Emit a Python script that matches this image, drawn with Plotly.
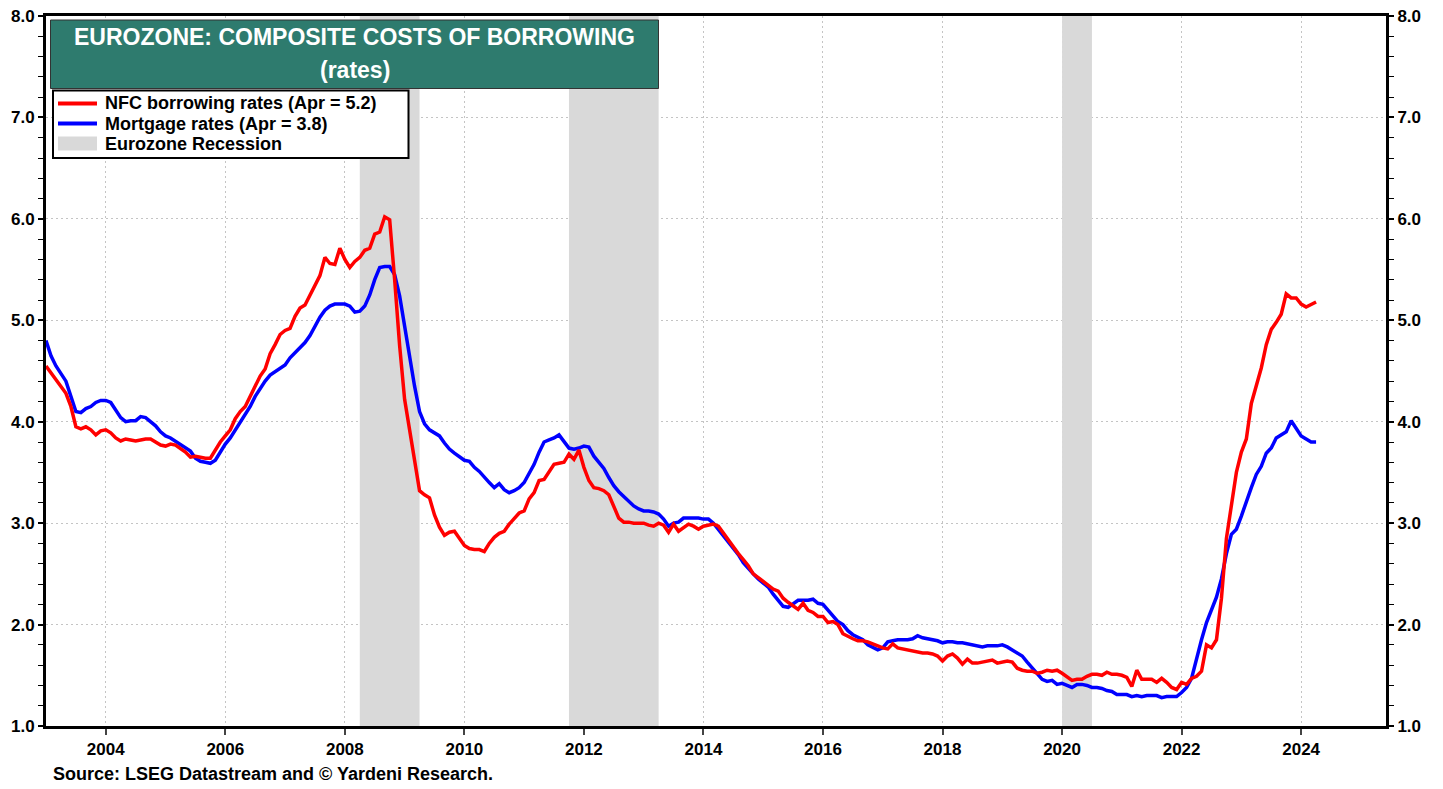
import plotly.graph_objects as go

# ---------------- data (monthly, Jan 2003 .. Apr 2024) ----------------
start_year = 2003
nfc_rates = [
    # 2003
    4.55, 4.48, 4.42, 4.35, 4.28, 4.15, 3.95, 3.93, 3.95, 3.92, 3.87, 3.91,
    # 2004
    3.92, 3.89, 3.84, 3.81, 3.83, 3.82, 3.81, 3.82, 3.83, 3.83, 3.80, 3.77,
    # 2005
    3.76, 3.78, 3.77, 3.74, 3.70, 3.65, 3.66, 3.65, 3.64, 3.64, 3.72, 3.80,
    # 2006
    3.86, 3.92, 4.03, 4.10, 4.15, 4.25, 4.36, 4.45, 4.52, 4.67, 4.76, 4.86,
    # 2007
    4.90, 4.92, 5.04, 5.12, 5.15, 5.25, 5.34, 5.44, 5.62, 5.56, 5.55, 5.71,
    # 2008
    5.60, 5.52, 5.58, 5.62, 5.69, 5.71, 5.85, 5.87, 6.02, 5.99, 5.40, 4.75,
    # 2009
    4.22, 3.92, 3.65, 3.32, 3.28, 3.25, 3.08, 2.96, 2.88, 2.91, 2.92, 2.85,
    # 2010
    2.78, 2.75, 2.74, 2.74, 2.72, 2.80, 2.86, 2.90, 2.92, 2.99, 3.05, 3.10,
    # 2011
    3.12, 3.24, 3.30, 3.42, 3.43, 3.50, 3.58, 3.59, 3.60, 3.68, 3.63, 3.72,
    # 2012
    3.55, 3.42, 3.35, 3.34, 3.32, 3.28, 3.17, 3.05, 3.01, 3.01, 3.00, 3.00,
    # 2013
    3.00, 2.98, 2.97, 3.00, 2.98, 2.91, 2.99, 2.92, 2.95, 2.99, 2.97, 2.94,
    # 2014
    2.97, 2.98, 2.99, 2.97, 2.90, 2.84, 2.77, 2.70, 2.64, 2.58, 2.50, 2.46,
    # 2015
    2.42, 2.38, 2.35, 2.33, 2.26, 2.22, 2.18, 2.15, 2.21, 2.14, 2.12, 2.08,
    # 2016
    2.08, 2.02, 2.03, 2.00, 1.91, 1.88, 1.86, 1.84, 1.84, 1.83, 1.81, 1.79,
    # 2017
    1.77, 1.76, 1.81, 1.77, 1.76, 1.75, 1.74, 1.73, 1.72, 1.72, 1.71, 1.69,
    # 2018
    1.64, 1.69, 1.71, 1.67, 1.61, 1.66, 1.62, 1.62, 1.63, 1.64, 1.65, 1.62,
    # 2019
    1.63, 1.64, 1.63, 1.57, 1.55, 1.54, 1.54, 1.52, 1.53, 1.55, 1.54, 1.55,
    # 2020
    1.52, 1.48, 1.45, 1.46, 1.46, 1.49, 1.51, 1.51, 1.50, 1.53, 1.51, 1.51,
    # 2021
    1.50, 1.48, 1.39, 1.55, 1.46, 1.46, 1.46, 1.43, 1.47, 1.43, 1.38, 1.36,
    # 2022
    1.43, 1.41, 1.47, 1.49, 1.54, 1.80, 1.77, 1.85, 2.26, 2.85, 3.20, 3.50,
    # 2023
    3.70, 3.83, 4.18, 4.37, 4.53, 4.76, 4.91, 4.98, 5.06, 5.26, 5.22, 5.22,
    # 2024
    5.16, 5.13, 5.16, 5.18,
]

mortgage_rates = [
    # 2003
    4.80, 4.65, 4.55, 4.47, 4.40, 4.25, 4.10, 4.09, 4.13, 4.15, 4.19, 4.21,
    # 2004
    4.21, 4.19, 4.12, 4.04, 4.00, 4.01, 4.01, 4.05, 4.04, 4.00, 3.96, 3.90,
    # 2005
    3.86, 3.84, 3.81, 3.78, 3.75, 3.71, 3.64, 3.61, 3.60, 3.59, 3.62, 3.70,
    # 2006
    3.78, 3.84, 3.92, 3.99, 4.07, 4.15, 4.25, 4.33, 4.40, 4.46, 4.49, 4.52,
    # 2007
    4.56, 4.63, 4.68, 4.73, 4.78, 4.85, 4.94, 5.03, 5.10, 5.14, 5.16, 5.16,
    # 2008
    5.16, 5.14, 5.08, 5.09, 5.14, 5.25, 5.40, 5.52, 5.53, 5.53, 5.45, 5.24,
    # 2009
    4.93, 4.62, 4.35, 4.10, 3.98, 3.92, 3.89, 3.86, 3.79, 3.73, 3.69, 3.65,
    # 2010
    3.62, 3.61, 3.55, 3.51, 3.45, 3.40, 3.35, 3.39, 3.33, 3.30, 3.32, 3.35,
    # 2011
    3.40, 3.49, 3.58, 3.70, 3.80, 3.82, 3.84, 3.87, 3.80, 3.74, 3.73, 3.74,
    # 2012
    3.76, 3.75, 3.66, 3.60, 3.54, 3.45, 3.37, 3.31, 3.26, 3.21, 3.17, 3.14,
    # 2013
    3.12, 3.12, 3.11, 3.09, 3.04, 2.97, 3.00, 3.01, 3.05, 3.05, 3.05, 3.05,
    # 2014
    3.04, 3.04, 3.00, 2.94, 2.87, 2.82, 2.75, 2.69, 2.61, 2.55, 2.50, 2.45,
    # 2015
    2.41, 2.37, 2.30, 2.24, 2.18, 2.17, 2.20, 2.24, 2.24, 2.24, 2.25, 2.21,
    # 2016
    2.20, 2.14, 2.08, 2.03, 2.00, 1.94, 1.90, 1.87, 1.85, 1.80, 1.77, 1.75,
    # 2017
    1.77, 1.83, 1.84, 1.85, 1.85, 1.85, 1.86, 1.89, 1.87, 1.86, 1.85, 1.84,
    # 2018
    1.82, 1.83, 1.83, 1.82, 1.82, 1.81, 1.80, 1.79, 1.78, 1.79, 1.79, 1.79,
    # 2019
    1.80, 1.78, 1.75, 1.72, 1.69, 1.63, 1.57, 1.52, 1.46, 1.44, 1.45, 1.41,
    # 2020
    1.42, 1.40, 1.38, 1.41, 1.41, 1.40, 1.38, 1.38, 1.37, 1.35, 1.34, 1.31,
    # 2021
    1.31, 1.31, 1.29, 1.30, 1.29, 1.30, 1.30, 1.30, 1.28, 1.29, 1.29, 1.29,
    # 2022
    1.33, 1.38, 1.47, 1.67, 1.85, 2.02, 2.15, 2.27, 2.45, 2.70, 2.89, 2.94,
    # 2023
    3.07, 3.22, 3.35, 3.48, 3.56, 3.69, 3.74, 3.84, 3.87, 3.90, 4.01, 3.94,
    # 2024
    3.86, 3.83, 3.80, 3.80,
]

# Eurozone recessions (decimal years: start, end)
recession_starts = [2008.25, 2011.75, 2020.0]
recession_ends = [2009.25, 2013.25, 2020.5]

x_tick_years = list(range(2004, 2025, 2))
y_ticks = [1, 2, 3, 4, 5, 6, 7, 8]

title_line1 = "EUROZONE: COMPOSITE COSTS OF BORROWING"
title_line2 = "(rates)"
nfc_label = "NFC borrowing rates (Apr = 5.2)"
mort_label = "Mortgage rates (Apr = 3.8)"
rec_label = "Eurozone Recession"
source_text = "Source: LSEG Datastream and © Yardeni Research."

RED, BLUE, GRAY = "#ff0000", "#0000ff", "#d9d9d9"

# ---------------- build ----------------
months = [start_year + i / 12 for i in range(len(nfc_rates))]

rec_x, rec_y = [], []
for s, e in zip(recession_starts, recession_ends):
    rec_x += [s, s, e, e, s, None]
    rec_y += [1, 8, 8, 1, 1, None]

FONT = "Liberation Sans, Arial, Helvetica, sans-serif"
W, H = 1443, 789
PAGE_OFF = 8                       # default body margin of the html page
L, R, T, B = 46, 1386, 16, 726     # plot area in screen pixels


def pxx(px):
    return (px - L) / (R - L)


def pxy(py):
    return (B - py) / (B - T)


fig = go.Figure()
fig.add_trace(go.Scatter(
    x=rec_x, y=rec_y, mode="lines", fill="toself",
    fillcolor=GRAY, line=dict(width=0, color=GRAY),
    name=rec_label, showlegend=False, hoverinfo="skip",
))
fig.add_trace(go.Scatter(
    x=months, y=mortgage_rates, mode="lines",
    line=dict(color=BLUE, width=3.5), name=mort_label, showlegend=False,
))
fig.add_trace(go.Scatter(
    x=months, y=nfc_rates, mode="lines",
    line=dict(color=RED, width=3.5), name=nfc_label, showlegend=False,
))
# invisible trace to anchor the right axis
fig.add_trace(go.Scatter(
    x=[months[0]], y=[nfc_rates[0]], yaxis="y2", mode="lines",
    showlegend=False, hoverinfo="skip", line=dict(width=0),
))

grid = dict(showgrid=True, gridcolor="#c4c4c4", gridwidth=1,
            griddash="2px,3px")
tickfont = dict(family=FONT, size=17, color="black", weight="bold")
ymajor = dict(
    range=[1, 8], tickmode="array", tickvals=y_ticks,
    ticktext=[f"{v:.1f}" for v in y_ticks],
    ticks="outside", ticklen=5, tickwidth=2, tickcolor="black",
    minor=dict(dtick=0.2, ticks="outside", ticklen=5, tickwidth=1,
               tickcolor="black", showgrid=False),
    tickfont=tickfont, showline=True, linewidth=3, linecolor="black",
    zeroline=False, automargin=False, ticklabeloverflow="allow",
)

# legend drawn as a box with samples and labels
legend_rows = [(nfc_label, "line", RED), (mort_label, "line", BLUE),
               (rec_label, "box", GRAY)]
shapes = [
    dict(type="rect", xref="paper", yref="paper",
         x0=pxx(50.5), x1=pxx(658.5), y0=pxy(88.5), y1=pxy(20),
         fillcolor="#2e7b6e", line=dict(color="#333333", width=1),
         layer="above"),
    dict(type="rect", xref="paper", yref="paper",
         x0=pxx(53), x1=pxx(408.5), y0=pxy(158), y1=pxy(90.5),
         fillcolor="white", line=dict(color="black", width=2),
         layer="above"),
]
annotations = [
    dict(text=title_line1, xref="paper", yref="paper",
         x=pxx(354.5), y=pxy(37), xanchor="center", yanchor="middle",
         showarrow=False,
         font=dict(family=FONT, size=23, color="white", weight="bold")),
    dict(text=title_line2, xref="paper", yref="paper",
         x=pxx(354.5), y=pxy(69.5), xanchor="center", yanchor="middle",
         showarrow=False,
         font=dict(family=FONT, size=23, color="white", weight="bold")),
    dict(text=source_text, xref="paper", yref="paper",
         x=pxx(51), y=pxy(774), xanchor="left", yanchor="middle",
         showarrow=False,
         font=dict(family=FONT, size=18, color="black", weight="bold")),
]
for i, (label, kind, color) in enumerate(legend_rows):
    yc = 103.5 + 20 * i
    if kind == "line":
        shapes.append(dict(type="line", xref="paper", yref="paper",
                           x0=pxx(58), x1=pxx(97), y0=pxy(yc), y1=pxy(yc),
                           line=dict(color=color, width=4), layer="above"))
    else:
        shapes.append(dict(type="rect", xref="paper", yref="paper",
                           x0=pxx(58), x1=pxx(97), y0=pxy(yc + 7),
                           y1=pxy(yc - 7), fillcolor=color,
                           line=dict(width=0), layer="above"))
    annotations.append(dict(
        text=label, xref="paper", yref="paper", x=pxx(103), y=pxy(yc),
        xanchor="left", yanchor="middle", showarrow=False,
        font=dict(family=FONT, size=18, color="black", weight="bold")))

fig.update_layout(
    width=W, height=H,
    margin=dict(l=L - PAGE_OFF, r=W - R + PAGE_OFF, t=T - PAGE_OFF,
                b=H - B + PAGE_OFF, pad=0, autoexpand=False),
    paper_bgcolor="white", plot_bgcolor="white",
    font=dict(family=FONT, color="black"),
    showlegend=False,
    xaxis=dict(
        range=[2003.0, 2025.42],
        tickmode="array", tickvals=x_tick_years,
        ticktext=[str(y) for y in x_tick_years],
        ticks="outside", ticklen=6, tickwidth=2, tickcolor="#444",
        tickfont=tickfont,
        showline=True, linewidth=3, linecolor="black", mirror=True,
        zeroline=False, automargin=False, ticklabeloverflow="allow",
        **grid,
    ),
    yaxis=dict(**ymajor, **grid),
    yaxis2=dict(**ymajor, overlaying="y", side="right", showgrid=False),
    shapes=shapes,
    annotations=annotations,
)

fig.write_html("out.html")
